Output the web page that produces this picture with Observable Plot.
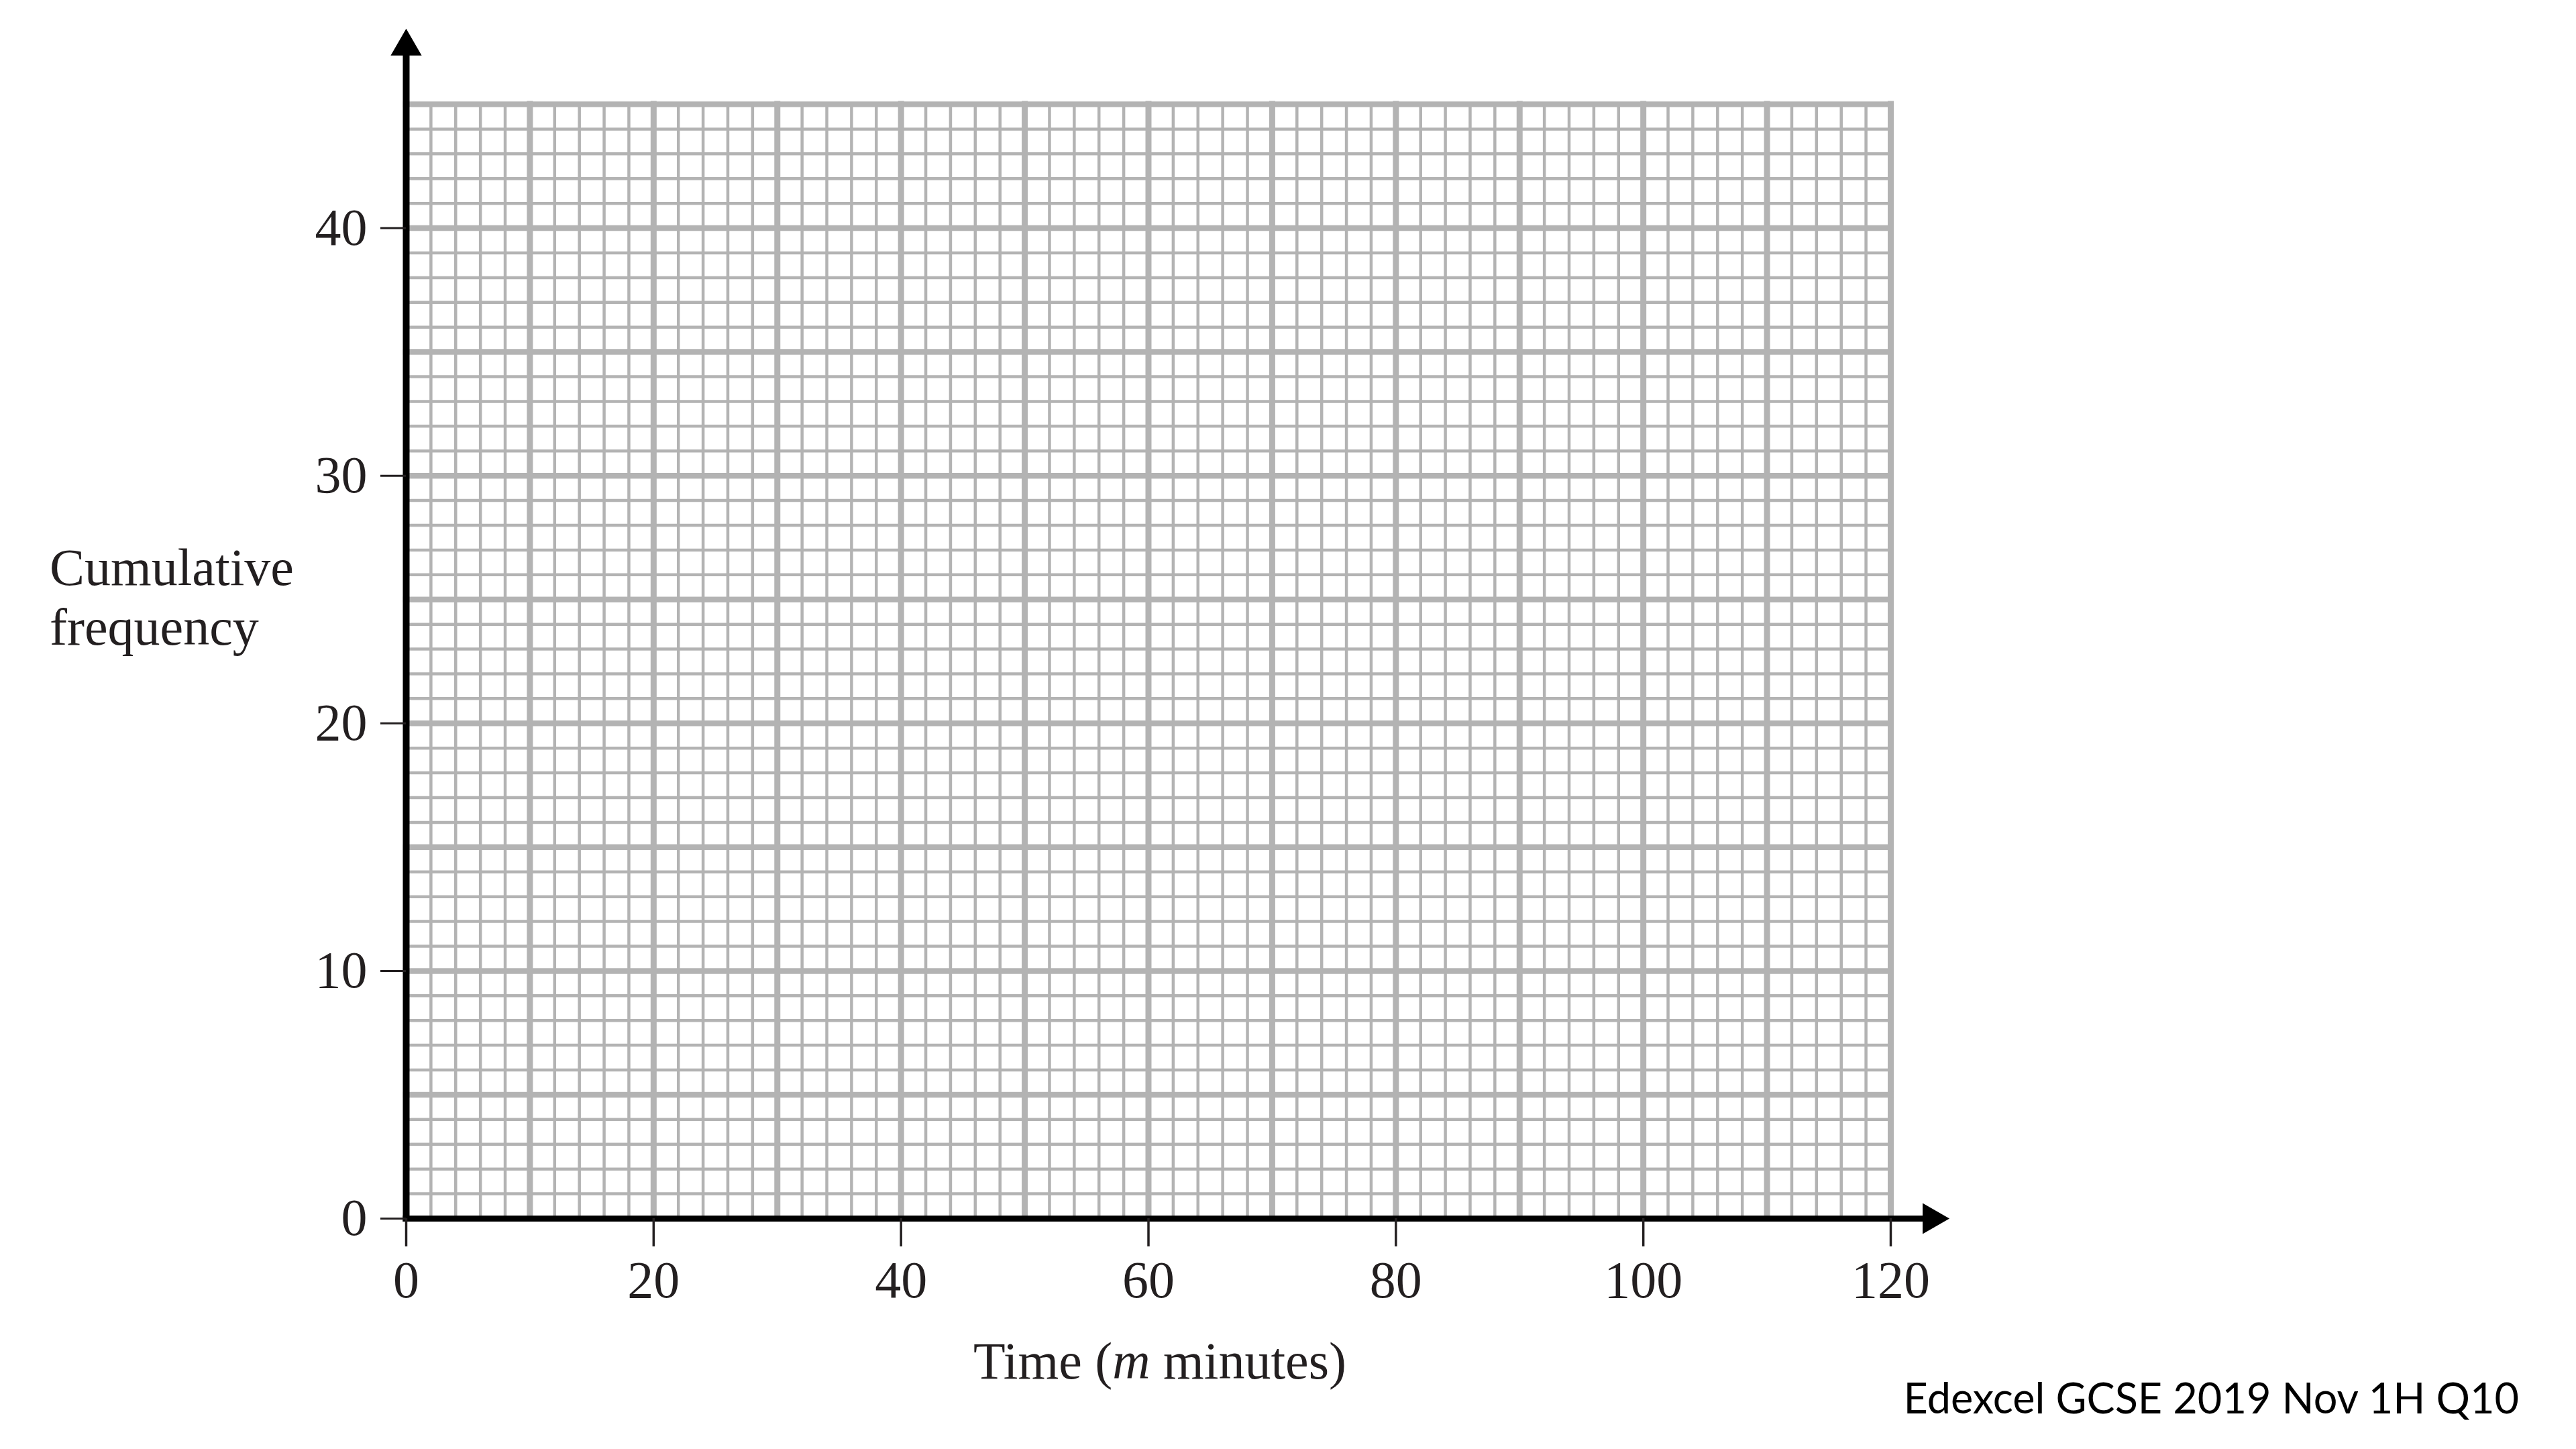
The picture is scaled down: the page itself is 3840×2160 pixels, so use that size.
<!DOCTYPE html>
<html>
<head>
<meta charset="utf-8">
<script src="https://cdn.jsdelivr.net/npm/d3@7"></script>
<script src="https://cdn.jsdelivr.net/npm/@observablehq/plot@0.6"></script>
<style>
  html, body { margin: 0; padding: 0; background: #ffffff; overflow: hidden; }
  #page { position: relative; width: 3840px; height: 2160px; background: #ffffff; }
  #chart { position: absolute; left: 0; top: 0; }
  .serif { position: absolute; white-space: nowrap; font-family: "Liberation Serif", "Times New Roman", serif; font-size: 78px; color: #231f20; }
  #ylabel { left: 74px; top: 801px; line-height: 89px; }
  #xlabel { left: 1729px; top: 1990px; line-height: 78px; transform: translateX(-50%); }
  #source { position: absolute; right: 85px; top: 2051px; font-family: Lato, "Open Sans", sans-serif; font-size: 63px; line-height: 63px; color: #000; white-space: nowrap; }
</style>
</head>
<body>
<div id="page">
  <div id="chart"></div>
  <div id="ylabel" class="serif">Cumulative<br>frequency</div>
  <div id="xlabel" class="serif">Time (<i>m</i> minutes)</div>
  <div id="source">Edexcel GCSE 2019 Nov 1H Q10</div>
</div>
<script>
// ---- chart values ----
const xDomain = [0, 120];            // Time (m minutes)
const yDomain = [0, 45];             // Cumulative frequency
const xTicks = [0, 20, 40, 60, 80, 100, 120];
const yTicks = [0, 10, 20, 30, 40];
const xMinorStep = 2, xMajorStep = 10;   // graph-paper spacing
const yMinorStep = 1, yMajorStep = 5;
const xArrowEnd = 123.3;             // where the x-axis arrow head sits (data units)
const yArrowEnd = 47.33;             // where the y-axis arrow head sits (data units)

// ---- derived grid ----
const minorX = d3.range(xDomain[0], xDomain[1] + 1e-9, xMinorStep).filter(v => v % xMajorStep !== 0);
const majorX = d3.range(xDomain[0], xDomain[1] + 1e-9, xMajorStep);
const minorY = d3.range(yDomain[0], yDomain[1] + 1e-9, yMinorStep).filter(v => v % yMajorStep !== 0);
const majorY = d3.range(yDomain[0], yDomain[1] + 1e-9, yMajorStep);

const gridColor = "#b3b3b3";
const ink = "#231f20";

const plot = Plot.plot({
  width: 3840,
  height: 2160,
  marginLeft: 605,
  marginRight: 1022,
  marginTop: 155,
  marginBottom: 344,
  x: {domain: xDomain},
  y: {domain: yDomain},
  style: {fontFamily: '"Liberation Serif", "Times New Roman", serif', fontSize: "78px", color: ink, background: "transparent", overflow: "visible"},
  marks: [
    Plot.ruleX(minorX, {stroke: gridColor, strokeWidth: 4.5}),
    Plot.ruleY(minorY, {stroke: gridColor, strokeWidth: 4.5}),
    Plot.ruleX(majorX, {stroke: gridColor, strokeWidth: 9, strokeLinecap: "square"}),
    Plot.ruleY(majorY, {stroke: gridColor, strokeWidth: 8.5, strokeLinecap: "square"}),
    Plot.ruleX([0], {y1: yDomain[0], y2: yArrowEnd, stroke: "black", strokeWidth: 10, strokeLinecap: "square"}),
    Plot.ruleY([0], {x1: xDomain[0], x2: xArrowEnd, stroke: "black", strokeWidth: 9, strokeLinecap: "square"}),
    Plot.dot([{x: 0, y: yArrowEnd}], {x: "x", y: "y", symbol: "triangle", r: 17.15, fill: "black", stroke: "none"}),
    Plot.dot([{x: xArrowEnd, y: 0}], {x: "x", y: "y", symbol: "triangle", r: 17.15, fill: "black", stroke: "none", rotate: 90}),
    Plot.axisX({ticks: xTicks, anchor: "bottom", tickSize: 42, tickPadding: 20, stroke: ink, strokeWidth: 3.5, fill: ink, fontSize: 78, label: null}),
    Plot.axisY({ticks: yTicks, anchor: "left", tickSize: 38, tickPadding: 20, stroke: ink, strokeWidth: 3, fill: ink, fontSize: 78, label: null})
  ]
});
document.getElementById("chart").appendChild(plot);
</script>
</body>
</html>
